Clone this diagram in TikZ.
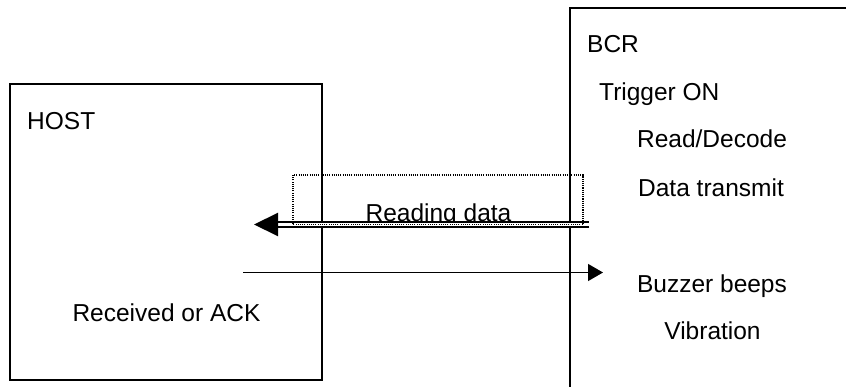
\documentclass[tikz,border=0pt]{standalone}
\usepackage{fontspec}
\setmainfont{Liberation Sans}
\usetikzlibrary{arrows.meta}
\tikzset{
  boxline/.style={line width=2pt},
  lbl/.style={inner sep=0pt, font=\fontsize{24.5pt}{28pt}\selectfont},
  thinarrow/.style={line width=1.4pt, -{Triangle[length=15pt,width=17pt]}},
  dblarrow/.style={line width=2.1pt, double, double distance=2.5pt, -{Triangle[length=24pt,width=23pt]}},
  dotbox/.style={line width=1.1pt, dash pattern=on 1.1pt off 1.1pt},
}
\begin{document}
\begin{tikzpicture}[x=1pt,y=-1pt]
\useasboundingbox (0,0) rectangle (846,387);
\clip (0,0) rectangle (846,387);
\fill[white] (0,0) rectangle (846,387);
% boxes
\draw[boxline] (9.5,84.5) rectangle (322,380);
\draw[boxline] (570,395) -- (570,8.5) -- (852,8.5);
% labels
\node[lbl, anchor=base west] (host) at (27,130) {HOST};
\node[lbl, anchor=base west] (bcr) at (587,53) {BCR};
\node[lbl, anchor=base west] (trig) at (599,101) {Trigger ON};
\node[lbl, anchor=base] (read) at (712,148) {Read/Decode};
\node[lbl, anchor=base] (tx) at (711,197) {Data transmit};
\node[lbl, anchor=base] (buzz) at (712,293) {Buzzer beeps};
\node[lbl, anchor=base] (vib) at (712.5,340) {Vibration};
\node[lbl, anchor=base] (ack) at (166.5,322) {Received or ACK};
\node[lbl, anchor=base] (rd) at (438.5,222) {Reading data};
% connectors
\coordinate (dstart) at (589,224.5);
\coordinate (dend) at (254,224.5);
\coordinate (astart) at (243,272.5);
\coordinate (aend) at (603,272.5);
\draw[dblarrow] (dstart) -- (dend);
\draw[dotbox] (293,224.5) rectangle (583,175);
\draw[thinarrow] (astart) -- (aend);
\end{tikzpicture}
\end{document}
